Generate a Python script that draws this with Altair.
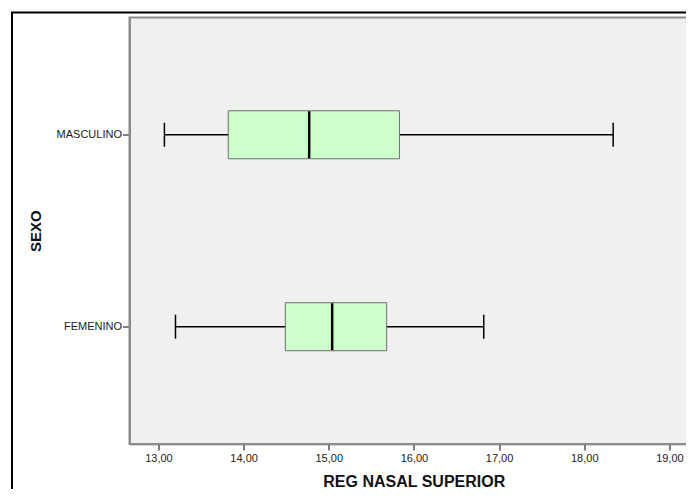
import altair as alt
import pandas as pd

sexo = ["MASCULINO", "FEMENINO"]
minimo = [13.07, 13.20]
q1 = [13.82, 14.49]
mediana = [14.77, 15.04]
q3 = [15.83, 15.68]
maximo = [18.34, 16.82]
x_ticks = [13, 14, 15, 16, 17, 18, 19]

df = pd.DataFrame({"sexo": sexo, "minimo": minimo, "q1": q1,
                   "mediana": mediana, "q3": q3, "maximo": maximo})

FONT = "Liberation Sans"
W, H = 556.5, 426.5

xscale = alt.Scale(domain=[12.66, 19.195], nice=False, zero=False)
yscale = alt.Scale(type="point", domain=sexo, padding=0.611)

xaxis = alt.Axis(values=x_ticks, title="REG NASAL SUPERIOR",
                 labelExpr="replace(format(datum.value, '.2f'), '.', ',')",
                 grid=False, labelFont=FONT, labelFontSize=11, labelColor="#222",
                 tickSize=6, tickColor="#555", tickWidth=1.5,
                 domainColor="#666", domainWidth=1.5, labelPadding=2,
                 titleFont=FONT, titleFontSize=16, titleFontWeight="bold",
                 titleColor="#111", titleBaseline="middle", titleY=37,
                 titleX=284.25)
yaxis = alt.Axis(title="SEXO", grid=False, labelFont=FONT, labelFontSize=11,
                 labelColor="#222", tickSize=7, tickColor="#555", tickWidth=1.5,
                 domainColor="#666", domainWidth=1.5, labelPadding=1,
                 titleFont=FONT, titleFontSize=15, titleFontWeight="bold",
                 titleColor="#111", titleAngle=270, titleBaseline="middle",
                 titleAlign="center", titleX=-94, titleY=H / 2)

base = alt.Chart(df)

y_enc = alt.Y("sexo:N", scale=yscale, axis=yaxis, sort=sexo)

whisker = base.mark_rule(color="black", strokeWidth=1.5).encode(
    x=alt.X("minimo:Q", scale=xscale, axis=xaxis),
    x2="maximo:Q",
    y=y_enc,
)
box = base.mark_bar(size=48, fill="#CCFFCC", stroke="#6E6E6E", strokeWidth=1,
                    opacity=1).encode(
    x="q1:Q", x2="q3:Q", y=alt.Y("sexo:N", sort=sexo),
)
median = base.mark_tick(color="black", size=47, thickness=2.5, orient="vertical",
                        opacity=1).encode(
    x="mediana:Q", y=alt.Y("sexo:N", sort=sexo),
)
cap_lo = base.mark_tick(color="black", size=24, thickness=1.5, orient="vertical",
                        opacity=1).encode(
    x="minimo:Q", y=alt.Y("sexo:N", sort=sexo),
)
cap_hi = base.mark_tick(color="black", size=24, thickness=1.5, orient="vertical",
                        opacity=1).encode(
    x="maximo:Q", y=alt.Y("sexo:N", sort=sexo),
)

one = pd.DataFrame({"f": [0]})
plot_border = alt.Chart(one).mark_rect(
    fill=None, stroke="#8C8C8C", strokeWidth=2, clip=False
).encode(
    x=alt.value(0), x2=alt.value(W + 20), y=alt.value(0), y2=alt.value(H)
)
frame = alt.Chart(one).mark_rect(
    fill=None, stroke="black", strokeWidth=2, clip=False
).encode(
    x=alt.value(-117.5), x2=alt.value(W + 40), y=alt.value(-5), y2=alt.value(H + 80)
)

chart = alt.layer(plot_border, whisker, box, median, cap_lo, cap_hi, frame).properties(
    width=W, height=H,
    padding={"left": 121.5, "top": 9.5, "right": 0, "bottom": 45},
    autosize="none",
    background="white",
).configure_view(
    fill="#F0F0F0", stroke=None
)

chart.save("out.html", embed_options={"renderer": "svg", "actions": False})
